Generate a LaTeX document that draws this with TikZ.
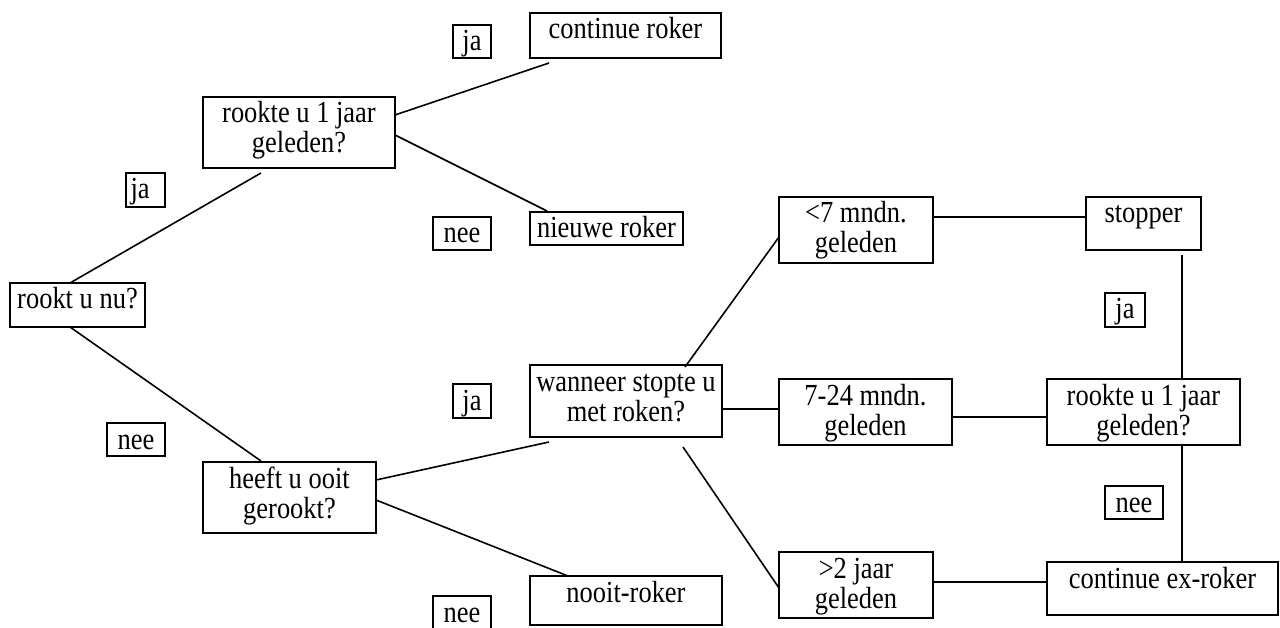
\documentclass[tikz,border=0pt]{standalone}
\usepackage{fontspec}
\setmainfont[FakeStretch=0.865]{Liberation Serif}
\usetikzlibrary{calc}
\begin{document}
\begin{tikzpicture}[x=1pt,y=-1pt,
  every node/.style={font=\fontsize{30.6}{30}\selectfont},
  box/.style n args={2}{draw, line width=1.6pt, inner sep=0pt, outer sep=0pt,
    minimum width=#1, minimum height=#2},
  txt/.style={label={[anchor=base, yshift=-26pt]north:{#1}}},
  txttwo/.style={label={[anchor=base, yshift=-56pt, align=center]north:{#1}}},
  txtleft/.style={label={[anchor=base west, xshift=1pt, yshift=-26pt]north west:{#1}}},
  link/.style={line width=1.6pt}]
\useasboundingbox (0,0) rectangle (1280,628);
\clip (0,0) rectangle (1280,628);

% decision boxes
\node[box={135}{44}, txt={rookt u nu?}] (nu) at (77.5,305) {};
\node[box={192}{71}, txttwo={rookte u 1 jaar\\geleden?}] (rk1) at (299,132.5) {};
\node[box={191}{45}, txt={continue roker}] (cr) at (625.5,35.5) {};
\node[box={153}{33}, txt={nieuwe roker}] (nr) at (606.5,228.5) {};
\node[box={173}{71}, txttwo={heeft u ooit\\gerookt?}] (ho) at (289.5,497.5) {};
\node[box={192}{72}, txttwo={wanneer stopte u\\met roken?}] (ws) at (626,401) {};
\node[box={192}{49}, txt={nooit-roker}] (nooit) at (626,600.5) {};
\node[box={154}{66}, txttwo={<7 mndn.\\geleden}] (m7) at (856,230) {};
\node[box={173}{66}, txttwo={7-24 mndn.\\geleden}] (m24) at (865.5,412) {};
\node[box={154}{66}, txttwo={>2 jaar\\geleden}] (j2) at (856,585) {};
\node[box={115}{53}, txt={stopper}] (stopper) at (1143.5,223.5) {};
\node[box={193}{66}, txttwo={rookte u 1 jaar\\geleden?}] (rk2) at (1143.5,412) {};
\node[box={231}{53}, txt={continue ex-roker}] (cx) at (1162.5,588.5) {};

% answer tags
\node[box={38}{33}, txt={ja}] (ja1) at (472,41.5) {};
\node[box={39}{34}, txtleft={ja}] (ja2) at (145.5,190) {};
\node[box={58}{33}, txt={nee}] (nee1) at (462,233.5) {};
\node[box={38}{34}, txt={ja}] (ja3) at (472,401) {};
\node[box={58}{33}, txt={nee}] (nee2) at (136,439.5) {};
\node[box={58}{33}, txt={nee}] (nee3) at (462,612.5) {};
\node[box={40}{34}, txt={ja}] (ja4) at (1125,310) {};
\node[box={58}{33}, txt={nee}] (nee4) at (1134,502.5) {};

% branches
\draw[link] ($(nu.north west)+(60,0)$) -- ($(rk1.south west)+(58,5)$);
\draw[link] ($(rk1.north east)+(0,18)$) -- ($(cr.south west)+(19,5)$);
\draw[link] ($(rk1.north east)+(0,38)$) -- ($(nr.north west)+(17,-1)$);
\draw[link] ($(nu.south west)+(60,0)$) -- ($(ho.north west)+(58,-1)$);
\draw[link] ($(ho.north east)+(0,18)$) -- ($(ws.south west)+(19,5)$);
\draw[link] ($(ho.north east)+(0,38)$) -- ($(nooit.north west)+(38,0)$);
\draw[link] ($(ws.north west)+(155,2)$) -- ($(m7.north west)+(0,40)$);
\draw[link] ($(ws.north east)+(0,44)$) -- ($(m24.north west)+(0,30)$);
\draw[link] ($(ws.south west)+(153,10)$) -- ($(j2.north west)+(0,36)$);
\draw[link] ($(m7.north east)+(0,20)$) -- ($(stopper.north west)+(0,20)$);
\draw[link] ($(m24.north east)+(0,38)$) -- ($(rk2.north west)+(0,38)$);
\draw[link] ($(j2.north east)+(0,30)$) -- ($(cx.north west)+(0,20)$);
\draw[link] ($(stopper.south west)+(96,5)$) -- ($(rk2.north west)+(135,0)$);
\draw[link] ($(rk2.south west)+(135,0)$) -- ($(cx.north west)+(135,0)$);
\end{tikzpicture}
\end{document}
